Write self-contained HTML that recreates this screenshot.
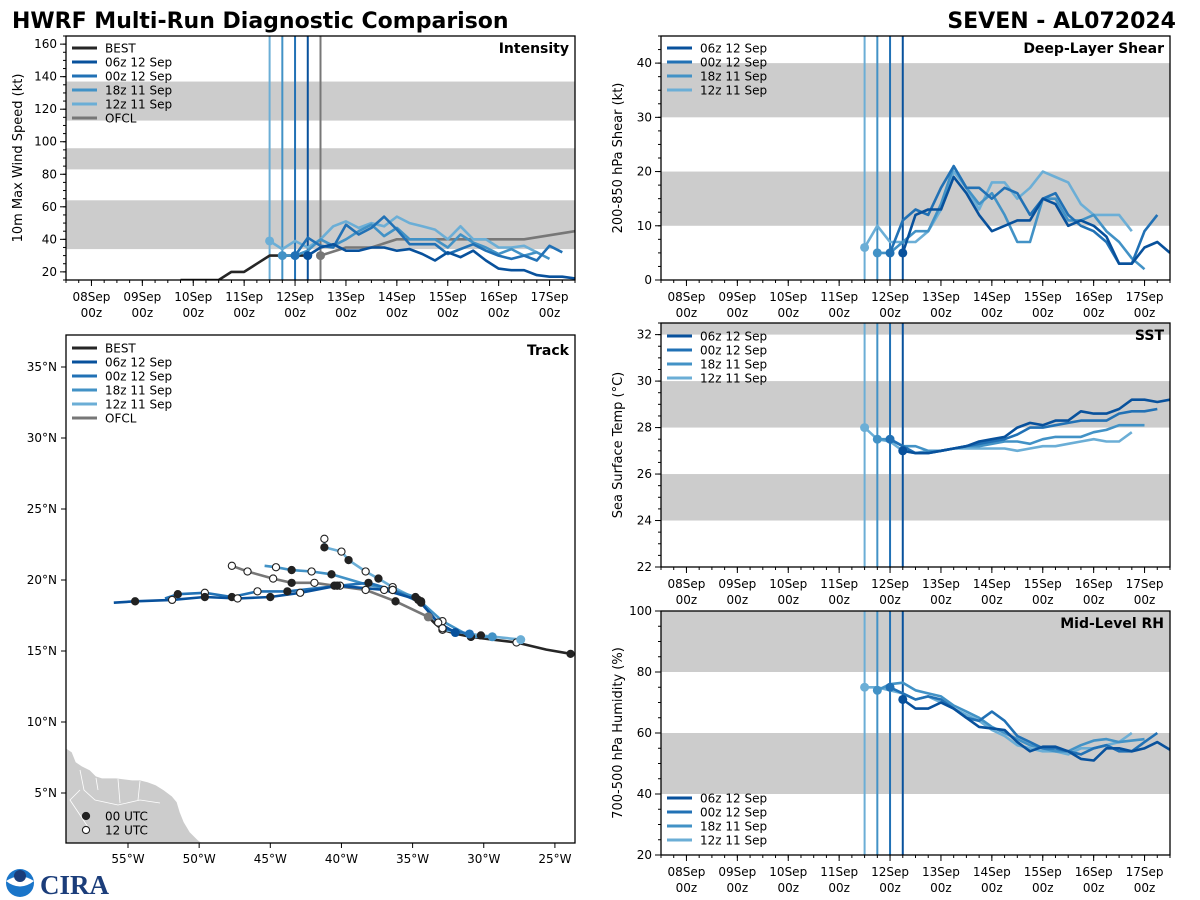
<!DOCTYPE html>
<html><head><meta charset="utf-8">
<style>
html,body{margin:0;padding:0;background:#fff;}
svg{display:block;font-family:"DejaVu Sans","Liberation Sans",sans-serif;}
</style></head>
<body>
<svg id="chart" width="1200" height="900" viewBox="0 0 1200 900" xmlns="http://www.w3.org/2000/svg">
<text x="12" y="28" font-size="22" font-weight="bold" fill="#000">HWRF Multi-Run Diagnostic Comparison</text>
<text x="1176" y="28" font-size="22" font-weight="bold" fill="#000" text-anchor="end">SEVEN - AL072024</text>
<g id="logo">
  <circle cx="20" cy="883" r="14" fill="#1a75c9"/>
  <path d="M6,881 Q20,872 34,881 Q20,892 6,881Z" fill="#fff"/>
  <circle cx="20" cy="876" r="6" fill="#1b3d7a"/>
  <text x="40" y="894" font-size="27" font-weight="bold" fill="#1b3d7a" font-family="Liberation Serif,serif">CIRA</text>
</g>
</svg>
<script>
// ---------- DATA ----------
const runNames = ["06z 12 Sep","00z 12 Sep","18z 11 Sep","12z 11 Sep"];
const runStarts = [4.25, 4.0, 3.75, 3.5]; // days since 08 Sep 00z
const bestStart = 1.75;
const bestIntensity = [15,15,15,15,20,20,25,30,30,30,30];
const ofclTimes = [4.5,5,5.5,6,6.5,7,7.5,8,8.5,9.5];
const ofclIntensity = [30,35,35,40,40,40,40,40,40,45];
const intensity06z12 = [30,35,37,33,33,35,35,33,34,31,27,32,29,33,27,22,21,21,18,17,17,16];
const intensity00z12 = [30,41,36,35,49,43,47,54,46,37,37,37,31,34,37,33,30,28,30,27,36,32];
const intensity18z11 = [30,30,33,40,36,40,45,49,42,47,40,40,40,35,43,38,35,31,34,30,32,28];
const intensity12z11 = [39,34,39,35,40,48,51,47,50,48,54,50,48,46,40,48,40,40,35,35,36,32];
const shear06z12 = [5,12,13,13,19,16,12,9,10,11,11,15,14,10,11,10,8,3,3,6,7,5];
const shear00z12 = [5,11,13,12,17,21,17,17,15,17,16,12,15,16,12,10,9,7,3,3,9,12];
const shear18z11 = [5,5,7,9,9,14,21,17,14,16,12,7,7,15,15,11,11,12,9,7,4,2];
const shear12z11 = [6,10,7,7,7,9,13,20,17,13,18,18,15,17,20,19,18,14,12,12,12,9];
const sst06z12 = [27.0,26.9,26.9,27.0,27.1,27.2,27.4,27.5,27.6,28.0,28.2,28.1,28.3,28.3,28.7,28.6,28.6,28.8,29.2,29.2,29.1,29.2];
const sst00z12 = [27.5,27.2,26.9,26.9,27.0,27.1,27.2,27.3,27.4,27.5,27.7,28.0,28.0,28.1,28.2,28.3,28.3,28.3,28.6,28.7,28.7,28.8];
const sst18z11 = [27.5,27.5,27.2,27.2,27.0,27.0,27.1,27.2,27.2,27.3,27.4,27.4,27.3,27.5,27.6,27.6,27.6,27.8,27.9,28.1,28.1,28.1];
const sst12z11 = [28.0,27.5,27.4,27.0,26.9,27.0,27.0,27.1,27.1,27.1,27.1,27.1,27.0,27.1,27.2,27.2,27.3,27.4,27.5,27.4,27.4,27.8];
const rh06z12 = [71,68,68,70,68,65,62,61.5,61,57,54,55.5,55.5,54,51.5,51,55,55,54,55,57,54.5];
const rh00z12 = [75,73,71,72,71,68,65,64,67,64,59,57,55,55,54,53,55,56,54,54,57,60];
const rh18z11 = [74,76,76.5,74,73,72,69,67,65,62,60,58,56,55,54,54,56,57.5,58,57,57.5,58];
const rh12z11 = [75,75,74,73,71,72,70,68,66,64,61,59,56,55,54,54,53,55,55,56,57,60];
// track (lon, lat, marker: 0 none, 1 = 00 UTC filled, 2 = 12 UTC open)
const bestLon = [-23.9,-25.6,-27.7,-29.4,-30.9,-31.9,-32.9,-33.4,-33.8];
const bestLat = [14.8,15.1,15.6,15.8,16.0,16.2,16.5,16.9,17.3];
const bestMk  = [1,0,2,0,1,0,2,0,0];
const ofclLon = [-33.9,-36.2,-38.3,-40.5,-41.9,-43.5,-44.8,-46.6,-47.7];
const ofclLat = [17.4,18.5,19.3,19.6,19.8,19.8,20.1,20.6,21.0];
const ofclMk  = [0,1,2,1,2,1,2,2,2];
const trk06Lon = [-32.0,-33.2,-34.6,-37.0,-40.3,-42.9,-45.0,-47.3,-49.6,-51.9,-54.5,-56.0];
const trk06Lat = [16.3,17.0,18.6,19.3,19.6,19.1,18.8,18.7,18.8,18.6,18.5,18.4];
const trk06Mk  = [0,2,1,2,1,2,1,2,1,2,1,0];
const trk00Lon = [-31.0,-32.9,-34.4,-36.4,-38.1,-40.1,-43.8,-45.9,-47.7,-49.6,-51.5,-52.4];
const trk00Lat = [16.2,16.6,18.4,19.3,19.8,19.6,19.2,19.2,18.8,19.1,19.0,18.7];
const trk00Mk  = [0,2,1,2,1,2,1,2,1,2,1,0];
const trk18Lon = [-29.4,-30.9,-32.9,-34.8,-36.4,-38.3,-40.7,-42.1,-43.5,-44.6,-45.4];
const trk18Lat = [16.0,16.0,17.1,18.8,19.3,19.7,20.4,20.6,20.7,20.9,21.0];
const trk18Mk  = [0,1,2,1,2,0,1,2,1,2,0];
const trk12Lon = [-27.4,-30.2,-32.9,-34.4,-36.4,-37.4,-38.3,-39.5,-40.0,-41.2,-41.2];
const trk12Lat = [15.8,16.1,16.5,18.5,19.5,20.1,20.6,21.4,22.0,22.3,22.9];
const trk12Mk  = [0,1,2,1,2,1,2,1,2,1,2];
const dayLabels = ["08Sep","09Sep","10Sep","11Sep","12Sep","13Sep","14Sep","15Sep","16Sep","17Sep"];

// ---------- RENDER ----------
const NS="http://www.w3.org/2000/svg";
const svg=document.getElementById('chart');
const colors=["#08519c","#2171b5","#4292c6","#6baed6"];
function mk(tag,attrs,parent){const e=document.createElementNS(NS,tag);for(const k in attrs)e.setAttribute(k,attrs[k]);(parent||svg).appendChild(e);return e;}

function timePanel(p){
  const g=mk('g',{});
  
  
  const xs=d=>p.x0+(d+0.5)/10*(p.x1-p.x0);
  const ys=v=>p.y1-(v-p.vmin)/(p.vmax-p.vmin)*(p.y1-p.y0);
  p.bands.forEach(b=>{const t=ys(Math.min(b[1],p.vmax)),bo=ys(b[0]);
    const r=mk('rect',{x:p.x0,y:t,width:p.x1-p.x0,height:bo-t,fill:'#cccccc'},g);
    
    });
  for(let v=p.vmin;v<=p.vmax+1e-6;v+=p.minor){if(v<p.vmin)continue;mk('line',{x1:p.x0-3,x2:p.x0,y1:ys(v),y2:ys(v),stroke:'#000','stroke-width':1},g);}
  for(let v=p.tick0;v<=p.vmax+1e-6;v+=p.major){mk('line',{x1:p.x0-6,x2:p.x0,y1:ys(v),y2:ys(v),stroke:'#000','stroke-width':1},g);
    const t=mk('text',{x:p.x0-9,y:ys(v)+4,'font-size':12,'text-anchor':'end'},g);t.textContent=v;
    
    }
  for(let d=-0.5;d<=9.5;d+=0.25){mk('line',{x1:xs(d),x2:xs(d),y1:p.y1,y2:p.y1+3,stroke:'#000'},g);}
  dayLabels.forEach((l,i)=>{mk('line',{x1:xs(i),x2:xs(i),y1:p.y1,y2:p.y1+6,stroke:'#000'},g);
    const t=mk('text',{x:xs(i),y:p.y1+21,'font-size':12,'text-anchor':'middle'},g);t.textContent=l;
    
    
    const t2=mk('text',{x:xs(i),y:p.y1+37,'font-size':12,'text-anchor':'middle'},g);t2.textContent='00z';});
  const cy=(p.y0+p.y1)/2;
  const yl=mk('text',{x:p.ylx,y:cy,'font-size':13,'text-anchor':'middle',transform:`rotate(-90 ${p.ylx} ${cy})`},g);yl.textContent=p.ylabel;
  
  
  if(p.ofcl){const l=mk('line',{x1:xs(ofclTimes[0]),x2:xs(ofclTimes[0]),y1:p.y0,y2:p.y1,stroke:'#777','stroke-width':2},g);}
  for(let r=3;r>=0;r--){const l=mk('line',{x1:xs(runStarts[r]),x2:xs(runStarts[r]),y1:p.y0,y2:p.y1,stroke:colors[r],'stroke-width':2},g);
    
    }
  const clip='clip-'+p.name;
  const cp=mk('clipPath',{id:clip},g);mk('rect',{x:p.x0,y:p.y0,width:p.x1-p.x0,height:p.y1-p.y0},cp);
  const lg=mk('g',{'clip-path':`url(#${clip})`},g);
  function series(times,vals,col,name,w){
    const pts=vals.map((v,i)=>xs(times[i]).toFixed(1)+','+ys(v).toFixed(1)).join(' ');
    const pl=mk('polyline',{points:pts,fill:'none',stroke:col,'stroke-width':w||2.6,'stroke-linejoin':'round'},lg);
    
    
    return pl;}
  if(p.best){series(bestIntensity.map((v,i)=>bestStart+i*0.25),bestIntensity,'#262626','best-line');}
  if(p.ofcl){series(ofclTimes,ofclIntensity,'#777','ofcl-line');}
  for(let r=3;r>=0;r--){const vals=p.data[r];series(vals.map((v,i)=>runStarts[r]+i*0.25),vals,colors[r],'series-'+runNames[r].replace(/ /g,'-').toLowerCase());}
  for(let r=3;r>=0;r--){const c=mk('circle',{cx:xs(runStarts[r]),cy:ys(p.data[r][0]),r:4.5,fill:colors[r]},lg);
    
    }
  if(p.ofcl){mk('circle',{cx:xs(ofclTimes[0]),cy:ys(ofclIntensity[0]),r:4.5,fill:'#777'},lg);}
  mk('rect',{x:p.x0,y:p.y0,width:p.x1-p.x0,height:p.y1-p.y0,fill:'none',stroke:'#000','stroke-width':1.3},g);
  const tt=mk('text',{x:p.x1-6,y:p.y0+17,'font-size':14,'font-weight':'bold','text-anchor':'end'},g);tt.textContent=p.title;
  
  
  const entries=[];if(p.best)entries.push(['BEST','#262626']);
  runNames.forEach((n,i)=>entries.push([n,colors[i]]));if(p.ofcl)entries.push(['OFCL','#777']);
  entries.forEach((e,i)=>{const y=p.legY+i*14;
    mk('line',{x1:p.x0+6,x2:p.x0+31,y1:y,y2:y,stroke:e[1],'stroke-width':3},g);
    const t=mk('text',{x:p.x0+39,y:y+4.5,'font-size':12},g);t.textContent=e[0];
    
    });
}
timePanel({name:'intensity',x0:66,x1:575,y0:36,y1:280,vmin:15,vmax:165,tick0:20,major:20,minor:5,bands:[[34,64],[83,96],[113,137]],ylabel:'10m Max Wind Speed (kt)',ylx:22,title:'Intensity',best:true,ofcl:true,legY:48,data:[intensity06z12,intensity00z12,intensity18z11,intensity12z11]});
timePanel({name:'shear',x0:661,x1:1170,y0:36,y1:280,vmin:0,vmax:45,tick0:0,major:10,minor:2.5,bands:[[10,20],[30,40]],ylabel:'200-850 hPa Shear (kt)',ylx:622,title:'Deep-Layer Shear',legY:48,data:[shear06z12,shear00z12,shear18z11,shear12z11]});
timePanel({name:'sst',x0:661,x1:1170,y0:323,y1:567,vmin:22,vmax:32.5,tick0:22,major:2,minor:0.5,bands:[[24,26],[28,30],[32,34]],ylabel:'Sea Surface Temp (°C)',ylx:622,title:'SST',legY:336,data:[sst06z12,sst00z12,sst18z11,sst12z11]});
timePanel({name:'rh',x0:661,x1:1170,y0:611,y1:855,vmin:20,vmax:100,tick0:20,major:20,minor:5,bands:[[40,60],[80,100]],ylabel:'700-500 hPa Humidity (%)',ylx:622,title:'Mid-Level RH',legY:798,data:[rh06z12,rh00z12,rh18z11,rh12z11]});

// ---------- TRACK ----------
(function(){
  const x0=66,x1=575,y0=335,y1=843;
  const lx=lon=>128+(lon+55)*14.23, ly=lat=>367-(lat-35)*14.2;
  const g=mk('g',{});
  
  
  const cp=mk('clipPath',{id:'clip-track'},g);mk('rect',{x:x0,y:y0,width:x1-x0,height:y1-y0},cp);
  const cg=mk('g',{'clip-path':'url(#clip-track)'},g);
  const land=mk('path',{d:'M66,748 L72,752 L76,762 L82,766 L90,770 L96,776 L102,778 L110,778 L116,778 L124,779 L132,780 L140,780 L148,782 L156,785 L164,790 L172,796 L177,802 L180,812 L184,822 L190,832 L198,840 L202,843 L66,843 Z',fill:'#cccccc',stroke:'#fff','stroke-width':0.8},cg);
  
  
  mk('path',{d:'M80,770 L84,790 L95,800 L118,805 L140,800 L160,803 M96,778 L98,790 M118,779 L120,803 M140,781 L138,800 M80,790 L70,800 L80,815 L90,830',fill:'none',stroke:'#fff','stroke-width':0.8},cg);
  function track(lons,lats,mks,col,name,w){
    const pts=lons.map((v,i)=>lx(v).toFixed(1)+','+ly(lats[i]).toFixed(1)).join(' ');
    const pl=mk('polyline',{points:pts,fill:'none',stroke:col,'stroke-width':w||2.6,'stroke-linejoin':'round'},cg);
    
    
    return pl;}
  function markers(lons,lats,mks){
    lons.forEach((v,i)=>{if(!mks[i])return;
      const c=mk('circle',{cx:lx(v),cy:ly(lats[i]),r:3.6,fill:mks[i]===1?'#222':'#fff',stroke:'#222','stroke-width':1.1},cg);
      
      });}
  track(bestLon,bestLat,bestMk,'#262626','best-track');
  track(ofclLon,ofclLat,ofclMk,'#777','ofcl-track');
  const T=[[trk12Lon,trk12Lat,trk12Mk],[trk18Lon,trk18Lat,trk18Mk],[trk00Lon,trk00Lat,trk00Mk],[trk06Lon,trk06Lat,trk06Mk]];
  T.forEach((t,k)=>track(t[0],t[1],t[2],colors[3-k],'track-'+runNames[3-k].replace(/ /g,'-').toLowerCase()));
  markers(bestLon,bestLat,bestMk);markers(ofclLon,ofclLat,ofclMk);
  T.forEach(t=>markers(t[0],t[1],t[2]));
  T.forEach((t,k)=>{const c=mk('circle',{cx:lx(t[0][0]),cy:ly(t[1][0]),r:4.5,fill:colors[3-k]},cg);
    
    });
  mk('circle',{cx:lx(ofclLon[0]),cy:ly(ofclLat[0]),r:4.5,fill:'#777'},cg);
  mk('rect',{x:x0,y:y0,width:x1-x0,height:y1-y0,fill:'none',stroke:'#000','stroke-width':1.3},g);
  for(let lon=-55;lon<=-25;lon+=5){mk('line',{x1:lx(lon),x2:lx(lon),y1:y1,y2:y1+5,stroke:'#000'},g);
    const t=mk('text',{x:lx(lon),y:y1+20,'font-size':12,'text-anchor':'middle'},g);t.textContent=(-lon)+'°W';
    
    }
  for(let lat=5;lat<=35;lat+=5){mk('line',{x1:x0-5,x2:x0,y1:ly(lat),y2:ly(lat),stroke:'#000'},g);
    const t=mk('text',{x:x0-9,y:ly(lat)+4,'font-size':12,'text-anchor':'end'},g);t.textContent=lat+'°N';
    
    }
  const tt=mk('text',{x:x1-6,y:y0+20,'font-size':14,'font-weight':'bold','text-anchor':'end'},g);tt.textContent='Track';
  
  
  const ent=[['BEST','#262626'],...runNames.map((n,i)=>[n,colors[i]]),['OFCL','#777']];
  ent.forEach((e,i)=>{const y=348+i*14;
    mk('line',{x1:72,x2:97,y1:y,y2:y,stroke:e[1],'stroke-width':3},g);
    const t=mk('text',{x:105,y:y+4.5,'font-size':12},g);t.textContent=e[0];
    
    });
  [['00 UTC',1,816],['12 UTC',2,830]].forEach(e=>{
    mk('circle',{cx:86,cy:e[2],r:3.6,fill:e[1]===1?'#222':'#fff',stroke:'#222','stroke-width':1.1},g);
    const t=mk('text',{x:105,y:e[2]+4.5,'font-size':12},g);t.textContent=e[0];
    
    });
})();
</script>
</body></html>
